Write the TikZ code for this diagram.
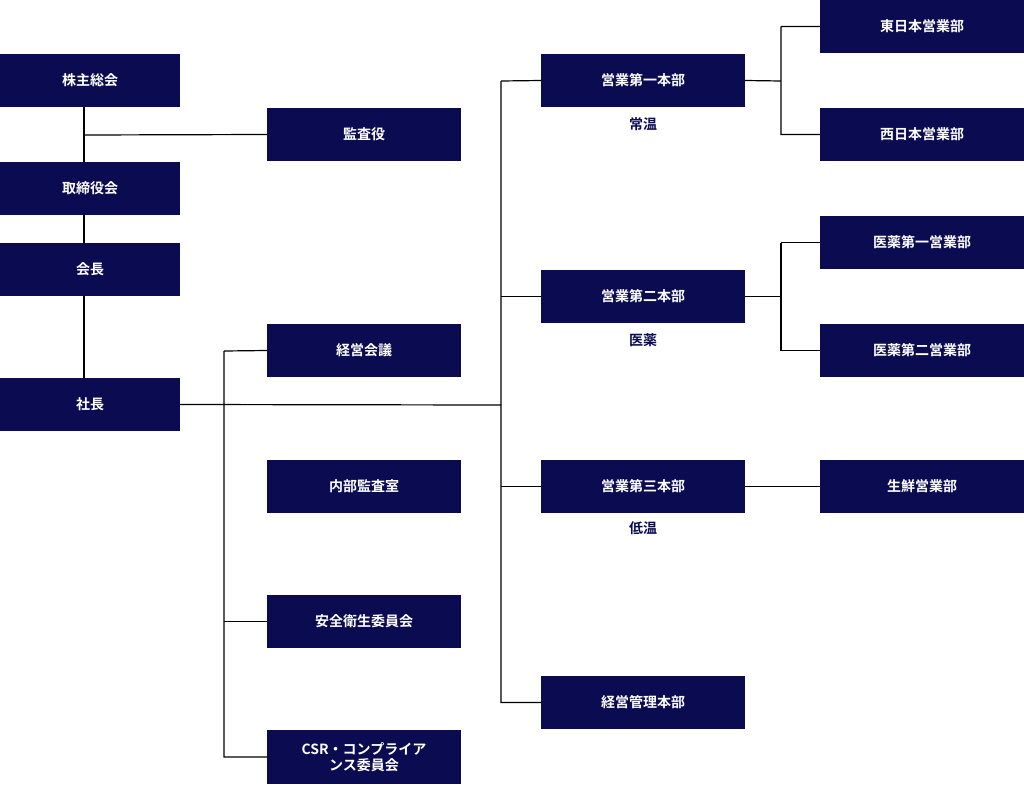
\documentclass[tikz,border=0pt]{standalone}
\usepackage{fontspec}
\newfontfamily\cjk{Noto Sans CJK JP}[BoldFont={* Bold}]
\definecolor{navy}{HTML}{0B0B52}
\begin{document}
\begin{tikzpicture}[x=1pt,y=-1pt,
  box/.style={fill=navy,draw=none,text=white,font=\cjk\bfseries\fontsize{14}{16}\selectfont,align=center,inner sep=0pt},
  lab/.style={text=navy,font=\cjk\bfseries\fontsize{14}{16}\selectfont},
  ln/.style={draw=black,line width=1.2pt}]
\useasboundingbox (0,0) rectangle (1024,784);
\newcommand{\bx}[6]{\node[box,minimum width=#4pt-#2pt,minimum height=#5pt-#3pt] (#1) at ({(#2+#4)/2},{(#3+#5)/2}) {#6};}
\bx{kabu}{0}{54}{180}{107}{株主総会}
\bx{kansa}{267}{108}{461}{161}{監査役}
\bx{tori}{0}{162}{180}{215}{取締役会}
\bx{kaicho}{0}{243}{180}{296}{会長}
\bx{shacho}{0}{378}{180}{431}{社長}
\bx{keiei}{267}{324}{461}{377}{経営会議}
\bx{naibu}{267}{460}{461}{513}{内部監査室}
\bx{anzen}{267}{595}{461}{648}{安全衛生委員会}
\bx{csr}{267}{730}{461}{784}{CSR・コンプライア\\ンス委員会}
\bx{e1}{541}{54}{745}{107}{営業第一本部}
\bx{e2}{541}{270}{745}{323}{営業第二本部}
\bx{e3}{541}{460}{745}{513}{営業第三本部}
\bx{kanri}{541}{676}{745}{729}{経営管理本部}
\bx{higashi}{820}{0}{1024}{53}{東日本営業部}
\bx{nishi}{820}{108}{1024}{161}{西日本営業部}
\bx{iyaku1}{820}{216}{1024}{269}{医薬第一営業部}
\bx{iyaku2}{820}{324}{1024}{377}{医薬第二営業部}
\bx{sensen}{820}{460}{1024}{513}{生鮮営業部}
\node[lab] (l1) at (643,124) {常温};
\node[lab] (l2) at (643,340) {医薬};
\node[lab] (l3) at (643,528) {低温};
\coordinate (a) at (84,135);
\draw[ln] (kabu.south -| 84,0) -- (tori.north -| 84,0);
\draw[ln] (a) -- (kansa.west);
\draw[ln] (tori.south -| 84,0) -- (kaicho.north -| 84,0);
\draw[ln] (kaicho.south -| 84,0) -- (shacho.north -| 84,0);
\draw[ln] (shacho.east) -- (501,405);
\draw[ln] (224,351) -- (keiei.west) (224,351) -- (224,757) -- (csr.west);
\draw[ln] (224,621.5) -- (anzen.west);
\draw[ln] (501,81) -- (e1.west) (501,81) -- (501,702.5) -- (kanri.west);
\draw[ln] (501,296.5) -- (e2.west);
\draw[ln] (501,486.5) -- (e3.west);
\draw[ln] (e1.east) -- (781,81) (781,26.5) -- (higashi.west) (781,26.5) -- (781,134.5) -- (nishi.west);
\draw[ln] (e2.east) -- (781,296.5) (781,242.5) -- (iyaku1.west) (781,242.5) -- (781,350.5) -- (iyaku2.west);
\draw[ln] (e3.east) -- (sensen.west);
\end{tikzpicture}
\end{document}
